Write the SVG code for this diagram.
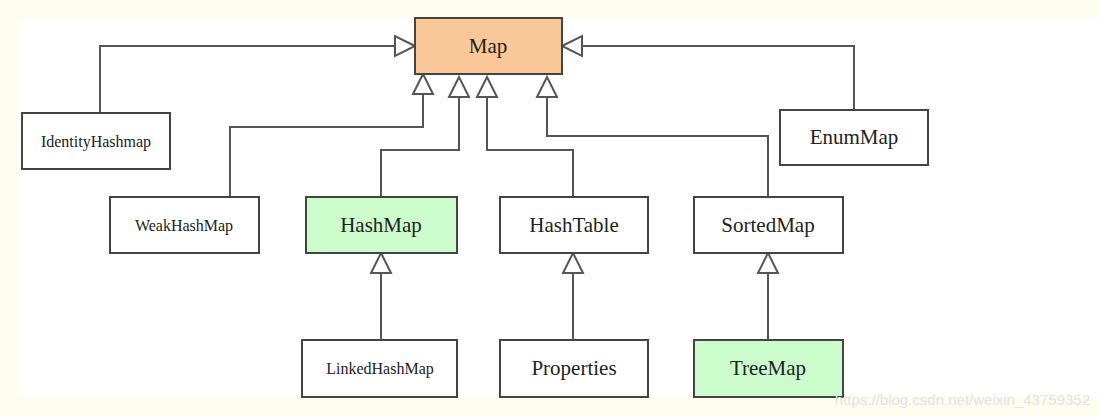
<svg xmlns="http://www.w3.org/2000/svg" width="1100" height="417" viewBox="0 0 1100 417">
<style>
.n{stroke:#444;stroke-width:2;fill:#fff}
.t{font-family:"Liberation Serif",serif;fill:#222;text-anchor:middle;dominant-baseline:central}
.c{stroke:#555;stroke-width:2;fill:none}
.a{stroke:#555;stroke-width:2;fill:#fff}
</style>
<rect width="1100" height="417" fill="#fdfdf0"/>
<rect x="20" y="18" width="1080" height="380" fill="#fff"/>
<g id="connectors">
<path class="c" d="M100,113V46H395"/><path class="a" d="M415,46l-20,-10v20z"/>
<path class="c" d="M854,110V46H582"/><path class="a" d="M562,46l20,-10v20z"/>
<path class="c" d="M230,197V127H423V94"/><path class="a" d="M423,74l-10,20h20z"/>
<path class="c" d="M381,197V150H459V97"/><path class="a" d="M459,77l-10,20h20z"/>
<path class="c" d="M573,197V150H487V97"/><path class="a" d="M487,77l-10,20h20z"/>
<path class="c" d="M768,197V136H547V97"/><path class="a" d="M547,77l-10,20h20z"/>
<path class="c" d="M381,340V273"/><path class="a" d="M381,253l-10,20h20z"/>
<path class="c" d="M573,340V273"/><path class="a" d="M573,253l-10,20h20z"/>
<path class="c" d="M768,340V273"/><path class="a" d="M768,253l-10,20h20z"/>
</g>
<g id="map"><rect class="n" x="415" y="18" width="147" height="56" fill="#fac898" style="fill:#fac898"/><text class="t" x="488" y="46" font-size="21">Map</text></g>
<g id="identity"><rect class="n" x="22" y="113" width="148" height="56"/><text class="t" x="96" y="141" font-size="16">IdentityHashmap</text></g>
<g id="weak"><rect class="n" x="110" y="197" width="149" height="56"/><text class="t" x="184" y="225" font-size="16">WeakHashMap</text></g>
<g id="hashmap"><rect class="n" x="306" y="197" width="151" height="56" style="fill:#ccfccc"/><text class="t" x="381" y="225" font-size="21">HashMap</text></g>
<g id="hashtable"><rect class="n" x="500" y="197" width="148" height="56"/><text class="t" x="574" y="225" font-size="21">HashTable</text></g>
<g id="sortedmap"><rect class="n" x="694" y="197" width="149" height="56"/><text class="t" x="768" y="225" font-size="21">SortedMap</text></g>
<g id="enummap"><rect class="n" x="780" y="110" width="148" height="55"/><text class="t" x="854" y="137" font-size="21">EnumMap</text></g>
<g id="linked"><rect class="n" x="302" y="340" width="155" height="57"/><text class="t" x="380" y="368" font-size="16">LinkedHashMap</text></g>
<g id="properties"><rect class="n" x="500" y="340" width="148" height="57"/><text class="t" x="574" y="368" font-size="21">Properties</text></g>
<g id="treemap"><rect class="n" x="694" y="340" width="149" height="57" style="fill:#ccfccc"/><text class="t" x="768" y="368" font-size="21">TreeMap</text></g>
<text x="1090" y="405" font-family="Liberation Sans,sans-serif" font-size="15" fill="#e2e2e2" text-anchor="end">https://blog.csdn.net/weixin_43759352</text>
</svg>
